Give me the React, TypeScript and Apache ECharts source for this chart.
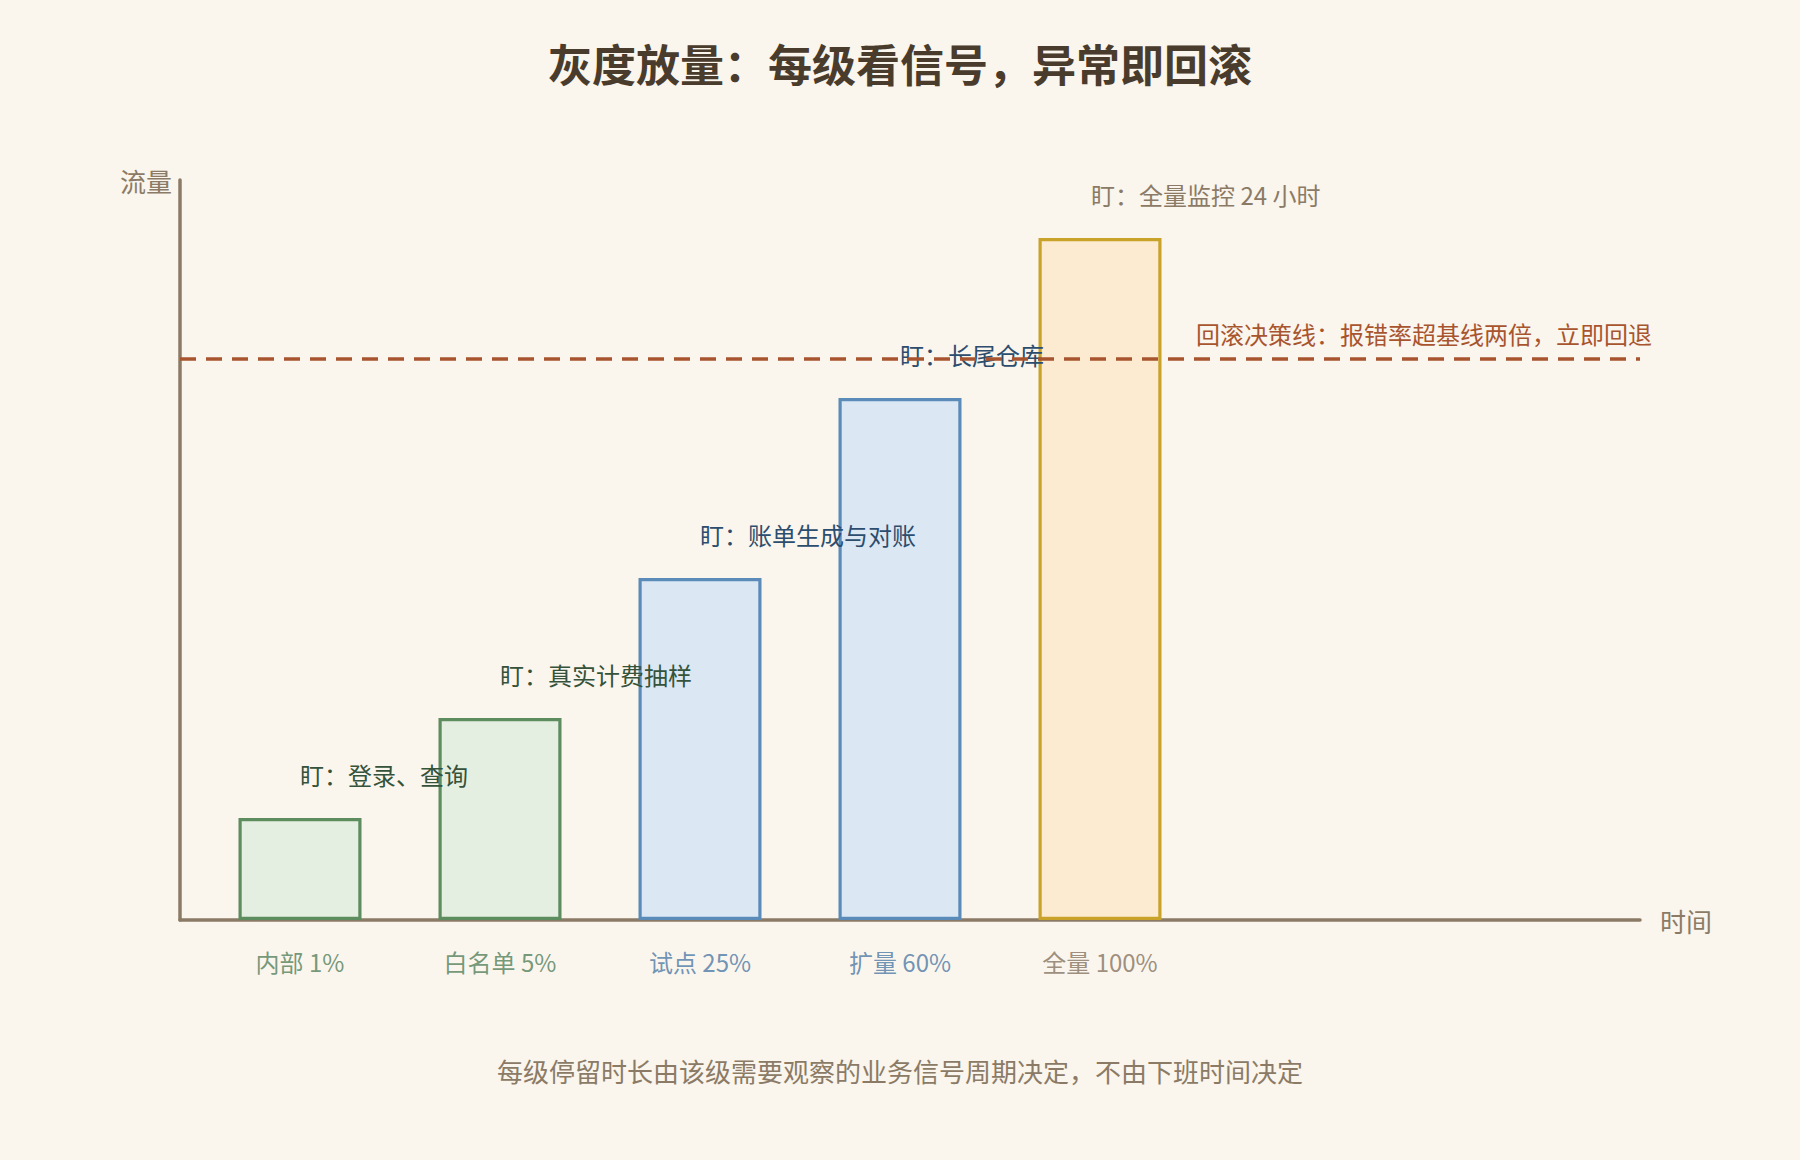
import React, { useEffect, useRef } from "react";
import * as echarts from "echarts";

// ---- data ----
const stages = ["内部 1%", "白名单 5%", "试点 25%", "扩量 60%", "全量 100%"];
const stagePos = [12, 32, 52, 72, 92];
const traffic = [10.2, 20.2, 34.2, 52.2, 68.2];
const watchNotes = [
  "盯：登录、查询",
  "盯：真实计费抽样",
  "盯：账单生成与对账",
  "盯：长尾仓库",
  "盯：全量监控 24 小时",
];
const rollbackThreshold = 56.1;
const rollbackLabel = "回滚决策线：报错率超基线两倍，立即回退";
const titleText = "灰度放量：每级看信号，异常即回滚";
const footText = "每级停留时长由该级需要观察的业务信号周期决定，不由下班时间决定";
const yName = "流量";
const xName = "时间";
const xMax = 146;
const yMax = 74;

// ---- styles ----
const FONT = "Noto Sans CJK SC";
const BG = "#faf5ed";
const AXIS = "#8b7b66";
const GREEN = { border: "#5d8c5f", fill: "#e4efe1", note: "#35523a", label: "#52805a" };
const BLUE = { border: "#5b8cb9", fill: "#dbe8f4", note: "#2d4d6e", label: "#4c7aa6" };
const GOLD = { border: "#c9a22a", fill: "#fcebd0", note: "#8b7b66", label: "#857360" };
const palette = [GREEN, GREEN, BLUE, BLUE, GOLD];
const DASH = "#a8552f";

export default function App() {
  const ref = useRef<HTMLDivElement>(null);

  useEffect(() => {
    if (!ref.current) return;
    const chart = echarts.init(ref.current, null, { renderer: "svg" });
    const option: any = {
      animation: false,
      backgroundColor: BG,
      textStyle: { fontFamily: FONT },
      title: [
        {
          text: titleText,
          left: "center",
          top: 36,
          textStyle: { fontFamily: FONT, fontSize: 44, fontWeight: "bold", color: "#4a3c2c" },
        },
        {
          text: footText,
          left: "center",
          top: 1052,
          textStyle: { fontFamily: FONT, fontSize: 26, fontWeight: "normal", color: AXIS },
        },
      ],
      grid: { left: 180, right: 160, top: 180, bottom: 240, containLabel: false },
      xAxis: {
        type: "value",
        min: 0,
        max: xMax,
        name: xName,
        nameLocation: "end",
        nameGap: 20,
        nameTextStyle: {
          fontFamily: FONT,
          fontSize: 26,
          color: AXIS,
          verticalAlign: "middle",
          padding: [0, 0, 8, 0],
        },
        axisLine: { show: true, lineStyle: { color: AXIS, width: 3.5 } },
        axisTick: { show: false },
        axisLabel: { show: false },
        splitLine: { show: false },
      },
      yAxis: {
        type: "value",
        min: 0,
        max: yMax,
        name: yName,
        nameLocation: "end",
        nameGap: 0,
        nameTextStyle: {
          fontFamily: FONT,
          fontSize: 26,
          color: AXIS,
          align: "right",
          verticalAlign: "middle",
          padding: [0, 8, 0, 0],
        },
        axisLine: { show: true, lineStyle: { color: AXIS, width: 3.5 } },
        axisTick: { show: false },
        axisLabel: { show: false },
        splitLine: { show: false },
      },
      series: [
        {
          type: "bar",
          barWidth: 123,
          z: 2,
          data: stagePos.map((x, i) => ({
            value: [x, traffic[i]],
            itemStyle: { color: palette[i].fill, borderColor: palette[i].border, borderWidth: 3.2 },
            label: {
              show: true,
              position: "top",
              align: "left",
              distance: 32,
              offset: i === 4 ? [-9, 0] : [0, 0],
              formatter: watchNotes[i],
              fontFamily: FONT,
              fontSize: 24,
              color: palette[i].note,
            },
          })),
          markLine: {
            silent: true,
            symbol: "none",
            z: 5,
            lineStyle: { color: DASH, width: 3.5, type: [16, 10] },
            label: {
              show: true,
              position: "insideEndTop",
              distance: [-12, 14],
              formatter: rollbackLabel,
              fontFamily: FONT,
              fontSize: 24,
              color: DASH,
            },
            data: [{ yAxis: rollbackThreshold }],
          },
        },
        {
          type: "scatter",
          symbolSize: 1,
          silent: true,
          itemStyle: { color: "rgba(0,0,0,0)" },
          z: 3,
          data: stagePos.map((x, i) => ({
            value: [x, 0],
            label: {
              show: true,
              position: "bottom",
              distance: 29,
              formatter: stages[i],
              fontFamily: FONT,
              fontSize: 24,
              color: palette[i].label,
            },
          })),
        },
      ],
    };
    chart.setOption(option);
    return () => chart.dispose();
  }, []);

  return (
    <div
      ref={ref}
      style={{ position: "fixed", left: 0, top: 0, width: 1800, height: 1160, background: BG }}
    />
  );
}
